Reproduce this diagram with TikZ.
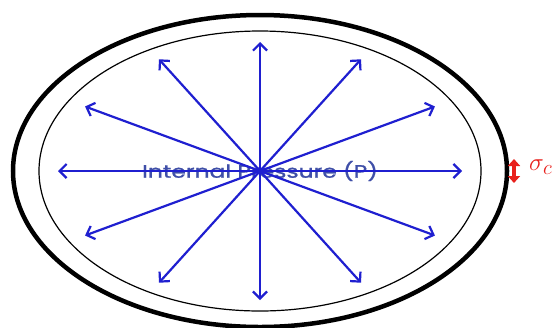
\documentclass[tikz,border=0pt]{standalone}
\usepackage{fontspec}
\setmainfont{Poppins}
\usetikzlibrary{arrows.meta,calc}
\definecolor{pblue}{HTML}{1F1FD0}
\definecolor{tblue}{HTML}{3F4FA8}
\definecolor{sred}{HTML}{E8201C}
\tikzset{
  outerwall/.style={line width=4.5pt, black},
  innerwall/.style={line width=1.2pt, black},
  parrow/.style={pblue, line width=2.2pt, -{Straight Barb[length=7pt,width=14pt,line width=2.2pt]}},
  stressarrow/.style={sred, line width=4pt, {Triangle[length=7pt,width=12pt]}-{Triangle[length=7pt,width=12pt]}},
}
\begin{document}
\begin{tikzpicture}[x=1pt,y=-1pt]
\useasboundingbox (0,0) rectangle (553,327);
\fill[white] (0,0) rectangle (553,327);
\coordinate (c) at (260,171);
\draw[outerwall] (c) ellipse [x radius=247, y radius=156];
\draw[innerwall] (c) ellipse [x radius=221, y radius=140];
\node[text=tblue, font=\fontsize{18}{20}\selectfont\addfontfeature{FakeBold=1}] (lbl) at (260,171) {\scalebox{1.3}[1]{Internal Pressure (P)}};
\foreach \a in {0,30,...,330} {
  \coordinate (p\a) at ($(c)+({202*cos(\a)},{129*sin(\a)})$);
}
\foreach \a in {0,30,...,330} {
  \draw[parrow] (c) -- (p\a);
}
\coordinate (s1) at (514,159);
\coordinate (s2) at (514,183);
\draw[stressarrow] (s1) -- (s2);
\node[text=sred, anchor=west, inner sep=0pt, font=\fontsize{28}{30}\selectfont] (sig) at (529,167) {$\sigma_c$};
\end{tikzpicture}
\end{document}
